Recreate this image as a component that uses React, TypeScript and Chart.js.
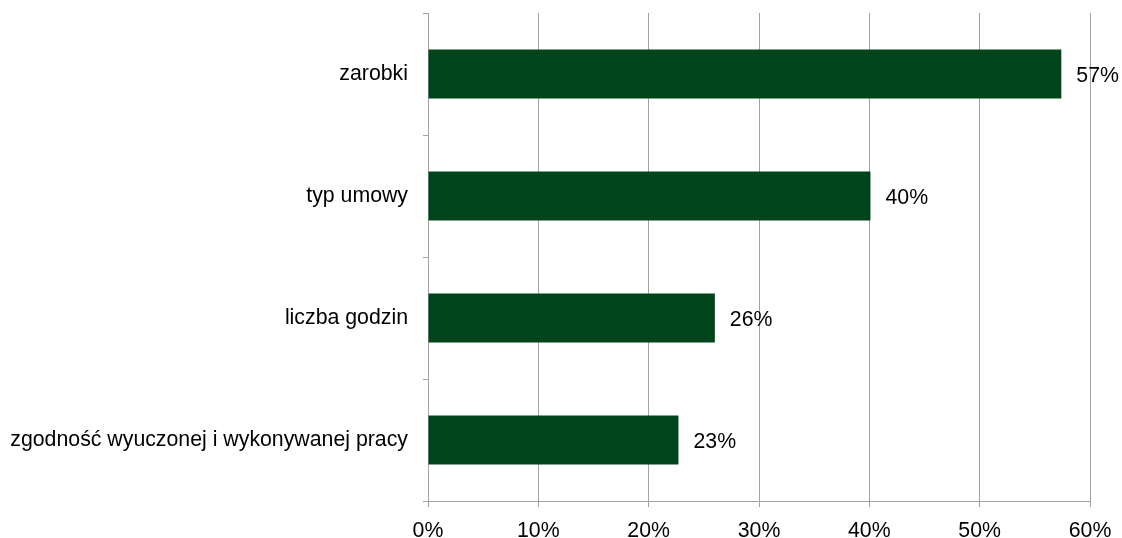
import React, { useEffect, useRef } from "react";
import { Chart, registerables } from "chart.js";

Chart.register(...registerables);

const categories: string[] = [
  "zarobki",
  "typ umowy",
  "liczba godzin",
  "zgodność wyuczonej i wykonywanej pracy",
];
const values: number[] = [57.4, 40.1, 26.0, 22.7];
const xTicks: number[] = [0, 10, 20, 30, 40, 50, 60];

const FONT = "'Liberation Sans', Arial, sans-serif";
const FONT_SIZE = 21.3;
const BAR_COLOR = "#00441B";
const GRID_COLOR = "#A3A3A3";

const valueLabels = {
  id: "valueLabels",
  afterDatasetsDraw(chart: any) {
    const ctx = chart.ctx;
    const meta = chart.getDatasetMeta(0);
    ctx.save();
    ctx.font = `${FONT_SIZE}px ${FONT}`;
    ctx.fillStyle = "#000";
    ctx.textAlign = "left";
    ctx.textBaseline = "middle";
    meta.data.forEach((bar: any, i: number) => {
      const v = values[i];
      ctx.fillText(`${Math.round(v)}%`, bar.x + 15, bar.y + 2);
    });
    ctx.restore();
  },
};

export default function App() {
  const ref = useRef<HTMLCanvasElement | null>(null);
  useEffect(() => {
    if (!ref.current) return;
    const chart = new Chart(ref.current, {
      type: "bar",
      data: {
        labels: categories,
        datasets: [
          {
            data: values,
            backgroundColor: BAR_COLOR,
            borderWidth: 0,
            barPercentage: 0.4,
            categoryPercentage: 1,
          },
        ],
      },
      options: {
        indexAxis: "y",
        responsive: false,
        animation: false,
        layout: { padding: { top: 13, right: 32, bottom: 0, left: 0 } },
        plugins: {
          legend: { display: false },
          tooltip: { enabled: false },
        },
        scales: {
          x: {
            min: 0,
            max: 60,
            afterBuildTicks: (scale: any) => {
              scale.ticks = xTicks.map((v) => ({ value: v }));
            },
            afterFit: (scale: any) => {
              scale.height = 37;
              scale.paddingLeft = 0;
              scale.paddingRight = 0;
            },
            ticks: {
              callback: (v: any) => `${v}%`,
              color: "#000",
              font: { family: FONT, size: FONT_SIZE },
              padding: 11,
              maxRotation: 0,
            },
            grid: {
              color: GRID_COLOR,
              lineWidth: 1,
              drawTicks: true,
              tickLength: 6,
            },
            border: { color: GRID_COLOR, width: 1 },
          },
          y: {
            afterFit: (scale: any) => {
              scale.width = 428;
              scale.paddingTop = 0;
              scale.paddingBottom = 0;
            },
            ticks: {
              color: "#000",
              font: { family: FONT, size: FONT_SIZE },
              padding: 15,
            },
            grid: {
              offset: true,
              drawOnChartArea: false,
              drawTicks: true,
              tickLength: 5,
              color: GRID_COLOR,
              lineWidth: 1,
            },
            border: { color: GRID_COLOR, width: 1 },
          },
        },
      },
      plugins: [valueLabels],
    });
    return () => chart.destroy();
  }, []);
  return (
    <div style={{ position: "absolute", left: 0, top: 0, width: 1122, height: 538, background: "#fff" }}>
      <canvas ref={ref} width={1122} height={538} style={{ display: "block" }} />
    </div>
  );
}
